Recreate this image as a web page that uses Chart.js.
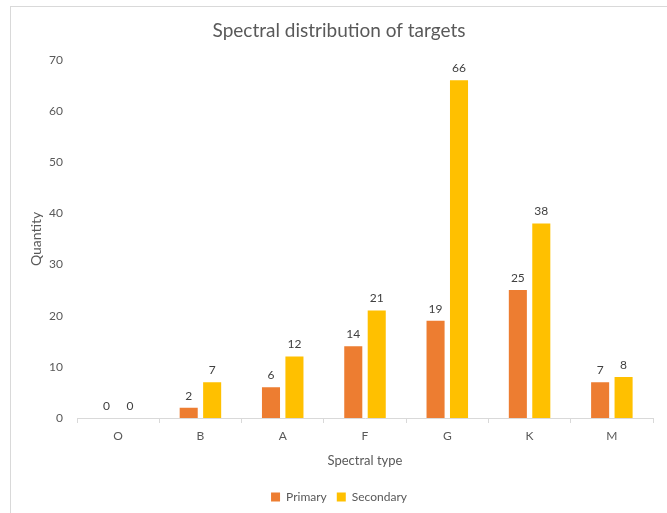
<!DOCTYPE html>
<html>
<head>
<meta charset="utf-8">
<script src="https://cdn.jsdelivr.net/npm/chart.js@4"></script>
<style>
  html, body { margin: 0; padding: 0; background: #fff; }
  #wrap { width: 667px; height: 513px; }
</style>
</head>
<body>
<div id="wrap"><canvas id="graph1" width="667" height="513"></canvas></div>
<script>
var spectralTypes = ['O', 'B', 'A', 'F', 'G', 'K', 'M'];
var primaryCounts = [0, 2, 6, 14, 19, 25, 7];
var secondaryCounts = [0, 7, 12, 21, 66, 38, 8];
var yTicks = [0, 10, 20, 30, 40, 50, 60, 70];

var fontFamily = 'Lato, "Open Sans", sans-serif';
var textGrey = '#595959';

// thin frame round the whole chart
var framePlugin = {
    id: 'frame',
    beforeDraw: function (chart) {
        var c = chart.ctx;
        c.save();
        c.strokeStyle = '#d9d9d9';
        c.lineWidth = 1;
        c.strokeRect(10.5, 6.5, 720, 560);
        c.restore();
    }
};

// value written above each bar
var valueLabels = {
    id: 'valueLabels',
    afterDatasetsDraw: function (chart) {
        var c = chart.ctx;
        c.save();
        c.fillStyle = '#404040';
        c.font = '12px ' + fontFamily;
        c.textAlign = 'center';
        c.textBaseline = 'bottom';
        chart.data.datasets.forEach(function (ds, i) {
            chart.getDatasetMeta(i).data.forEach(function (bar, j) {
                c.fillText(ds.data[j], bar.x, bar.y - 6);
            });
        });
        c.restore();
    }
};

var data = {
    labels: spectralTypes,
    datasets: [
        { label: 'Primary', data: primaryCounts, backgroundColor: '#ED7D31' },
        { label: 'Secondary', data: secondaryCounts, backgroundColor: '#FFC000' }
    ]
};

var config = {
    type: 'bar',
    data: data,
    plugins: [framePlugin, valueLabels],
    options: {
        responsive: false,
        animation: false,
        categoryPercentage: 0.57,
        barPercentage: 0.77,
        layout: { padding: { left: 25, right: 14, top: 0, bottom: 0 } },
        plugins: {
            title: {
                display: true,
                text: 'Spectral distribution of targets',
                color: textGrey,
                font: { family: fontFamily, size: 19, weight: 'normal' },
                padding: { top: 19, bottom: 18 }
            },
            legend: {
                position: 'bottom',
                labels: {
                    color: textGrey,
                    font: { family: fontFamily, size: 12 },
                    boxWidth: 9,
                    boxHeight: 9,
                    padding: 10
                }
            },
            tooltip: { enabled: false }
        },
        scales: {
            x: {
                grid: {
                    drawOnChartArea: false,
                    drawTicks: true,
                    tickLength: 5,
                    color: '#d9d9d9'
                },
                border: { display: true, color: '#d9d9d9' },
                ticks: {
                    color: textGrey,
                    font: { family: fontFamily, size: 12 },
                    padding: 6
                },
                title: {
                    display: true,
                    text: 'Spectral type',
                    color: textGrey,
                    font: { family: fontFamily, size: 13 },
                    padding: { top: 4, bottom: 12 }
                }
            },
            y: {
                min: 0,
                max: 70,
                afterBuildTicks: function (scale) {
                    scale.ticks = yTicks.map(function (v) { return { value: v }; });
                },
                afterFit: function (scale) { scale.width = 52; },
                grid: { display: false, drawTicks: false },
                border: { display: false },
                ticks: {
                    color: textGrey,
                    font: { family: fontFamily, size: 12 },
                    padding: 14
                },
                title: {
                    display: true,
                    text: 'Quantity',
                    color: textGrey,
                    font: { family: fontFamily, size: 14 },
                    padding: { top: 3, bottom: 0 }
                }
            }
        }
    }
};

var graph1 = new Chart(document.getElementById('graph1').getContext('2d'), config);
</script>
</body>
</html>
